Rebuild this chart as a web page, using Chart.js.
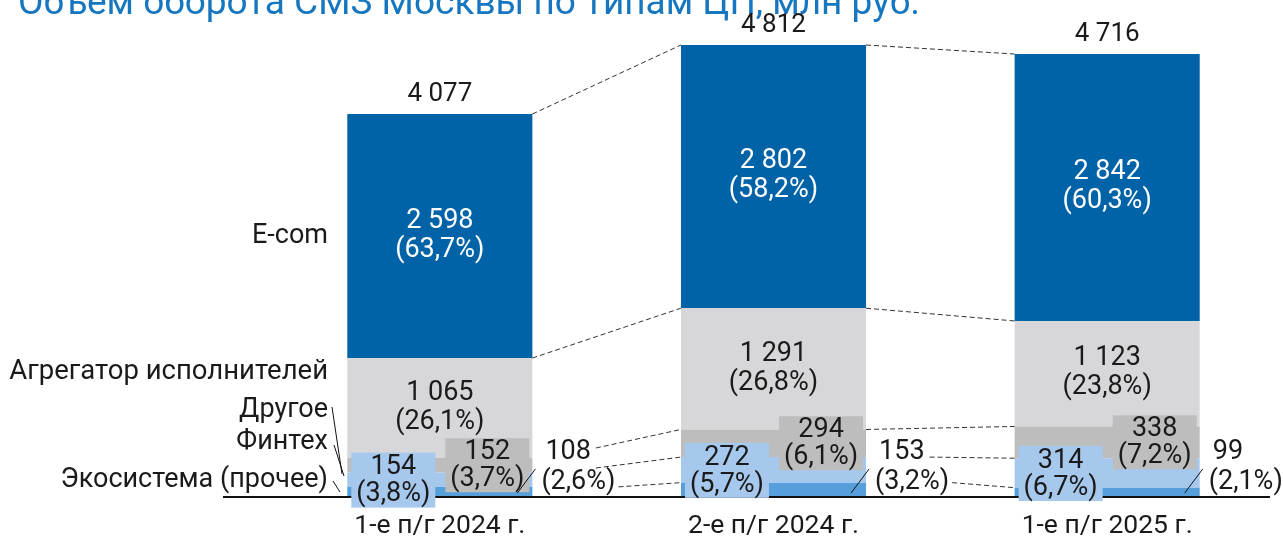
<!DOCTYPE html>
<html>
<head>
<meta charset="utf-8">
<script src="https://cdn.jsdelivr.net/npm/chart.js@4"></script>
<style>
  html, body { margin: 0; padding: 0; background: #fff; }
  #chart { display: block; }
</style>
</head>
<body>
<canvas id="chart" width="1283" height="538"></canvas>
<script>
// Данные
const titleText = 'Объем оборота СМЗ Москвы по типам ЦП, млн руб.';
const categories = ['1-е п/г 2024 г.', '2-е п/г 2024 г.', '1-е п/г 2025 г.'];
const seriesNames = ['Экосистема (прочее)', 'Финтех', 'Другое', 'Агрегатор исполнителей', 'E-com'];
const ecosystem = [108, 153, 99];
const fintech = [154, 272, 314];
const other = [152, 294, 338];
const aggregator = [1065, 1291, 1123];
const ecom = [2598, 2802, 2842];
const totals = [4077, 4812, 4716];
const ecosystemPct = ['2,6', '3,2', '2,1'];
const fintechPct = ['3,8', '5,7', '6,7'];
const otherPct = ['3,7', '6,1', '7,2'];
const aggregatorPct = ['26,1', '26,8', '23,8'];
const ecomPct = ['63,7', '58,2', '60,3'];

const colors = ['#569fda', '#a6c8ec', '#bdbdbe', '#d7d7d9', '#0062a7'];
const FONT = 'Roboto, "DejaVu Sans", sans-serif';
const TEXT = '#1a1a1a';
const LBL = 27;

function fmt(n) {
  return String(n).replace(/\B(?=(\d{3})+(?!\d))/g, ' ');
}

function text(ctx, str, x, y, size, color, align) {
  ctx.font = size + 'px ' + FONT;
  ctx.fillStyle = color;
  ctx.textAlign = align || 'center';
  ctx.textBaseline = 'middle';
  ctx.fillText(str, x, y);
}

function line(ctx, x1, y1, x2, y2, dash) {
  ctx.save();
  ctx.beginPath();
  ctx.setLineDash(dash || []);
  ctx.strokeStyle = dash ? '#333' : '#111';
  ctx.lineWidth = 1;
  ctx.moveTo(x1, y1);
  ctx.lineTo(x2, y2);
  ctx.stroke();
  ctx.restore();
}

const overlay = {
  id: 'overlay',
  afterDatasetsDraw(chart) {
    const ctx = chart.ctx;
    const bars = chart.data.datasets.map((d, i) => chart.getDatasetMeta(i).data.map(el => el.getProps(['x', 'y', 'base', 'width'], true)));
    const base = chart.scales.y.getPixelForValue(0);

    // заголовок
    ctx.save();
    ctx.font = '37px ' + FONT;
    ctx.fillStyle = '#1677c0';
    ctx.textAlign = 'left';
    ctx.textBaseline = 'alphabetic';
    ctx.fillText(titleText, 18, 14);
    ctx.restore();

    // ось
    ctx.save();
    ctx.fillStyle = '#111';
    ctx.fillRect(223, base - 1, 1047, 2);
    ctx.restore();

    const rowY1 = base - 45, rowY2 = base - 15;

    categories.forEach((cat, i) => {
      const eco = bars[0][i], fin = bars[1][i], oth = bars[2][i], agg = bars[3][i], ec = bars[4][i];
      const left = ec.x - ec.width / 2, right = ec.x + ec.width / 2;

      text(ctx, cat, ec.x, base + 29, 26.5, TEXT);
      text(ctx, fmt(totals[i]), ec.x, ec.y - 20, 26, TEXT);

      const ecMid = (ec.y + ec.base) / 2;
      text(ctx, fmt(ecom[i]), ec.x, ecMid - 15, LBL, '#fff');
      text(ctx, '(' + ecomPct[i] + '%)', ec.x, ecMid + 14, LBL, '#fff');

      const agMid = (agg.y + agg.base) / 2;
      text(ctx, fmt(aggregator[i]), ec.x, agMid - 15, LBL, TEXT);
      text(ctx, '(' + aggregatorPct[i] + '%)', ec.x, agMid + 14, LBL, TEXT);

      // Финтех
      const fMid = (fin.y + fin.base) / 2;
      ctx.fillStyle = colors[1];
      ctx.fillRect(left + 4, fMid - 27, 84, 55);
      text(ctx, fmt(fintech[i]), left + 46, fMid - 12, LBL, TEXT);
      text(ctx, '(' + fintechPct[i] + '%)', left + 46, fMid + 15, LBL, TEXT);

      // Другое
      const oMid = (oth.y + oth.base) / 2;
      ctx.fillStyle = colors[2];
      ctx.fillRect(right - 87, oMid - 27, 84, 54);
      text(ctx, fmt(other[i]), right - 45, oMid - 13, LBL, TEXT);
      text(ctx, '(' + otherPct[i] + '%)', right - 45, oMid + 14, LBL, TEXT);

      // Экосистема — подпись справа
      const tx = right + 9;
      text(ctx, fmt(ecosystem[i]), tx + 4, rowY1, LBL, TEXT, 'left');
      text(ctx, '(' + ecosystemPct[i] + '%)', tx, rowY2, LBL, TEXT, 'left');
      line(ctx, right - 15, base - 4, right + 3, base - 28);

      ctx.font = LBL + 'px ' + FONT;
      const end1 = tx + 4 + ctx.measureText(fmt(ecosystem[i])).width + 5;
      const end2 = tx + ctx.measureText('(' + ecosystemPct[i] + '%)').width + 3;

      if (i < categories.length - 1) {
        const nEc = bars[4][i + 1];
        const nLeft = nEc.x - nEc.width / 2;
        line(ctx, right, ec.y, nLeft, nEc.y, [5, 3]);
        line(ctx, right, ec.base, nLeft, nEc.base, [5, 3]);
        [2, 1, 0].forEach(k => {
          const y0 = bars[k][i].y;
          const y1 = bars[k][i + 1].y;
          let x0 = right;
          let ys = y0;
          if (y0 >= rowY1 - 14 && y0 < rowY1 + 22) { x0 = end1; ys = Math.min(y0, rowY1 + 16); }
          else if (y0 >= rowY1 + 22) x0 = end2;
          if (k === 2 && x0 === end1) ys = rowY1 - 4;
          line(ctx, x0, ys, nLeft, y1, [5, 3]);
        });
      }
    });

    // легенда слева
    const b0 = bars[4][0];
    text(ctx, seriesNames[4], 328, (b0.y + b0.base) / 2, LBL, TEXT, 'right');
    text(ctx, seriesNames[3], 328, 372, 27.5, TEXT, 'right');
    text(ctx, seriesNames[2], 328, 410, LBL, TEXT, 'right');
    text(ctx, seriesNames[1], 328, 442, LBL, TEXT, 'right');
    text(ctx, seriesNames[0], 328, 480, LBL, TEXT, 'right');
    line(ctx, 332, 407, 342, 474);
    line(ctx, 334, 445, 344, 476);
    line(ctx, 333, 481, 340, 492);
  }
};

new Chart(document.getElementById('chart'), {
  type: 'bar',
  data: {
    labels: categories,
    datasets: [ecosystem, fintech, other, aggregator, ecom].map((d, i) => ({
      label: seriesNames[i],
      data: d,
      backgroundColor: colors[i],
      borderWidth: 0,
      categoryPercentage: 0.5547,
      barPercentage: 1
    }))
  },
  options: {
    responsive: false,
    animation: false,
    devicePixelRatio: 1,
    layout: { padding: { left: 273, right: 9, top: 45, bottom: 41 } },
    plugins: { legend: { display: false }, tooltip: { enabled: false } },
    scales: {
      x: { stacked: true, display: false },
      y: { stacked: true, display: false, min: 0, max: 4812 }
    }
  },
  plugins: [overlay]
});
</script>
</body>
</html>
